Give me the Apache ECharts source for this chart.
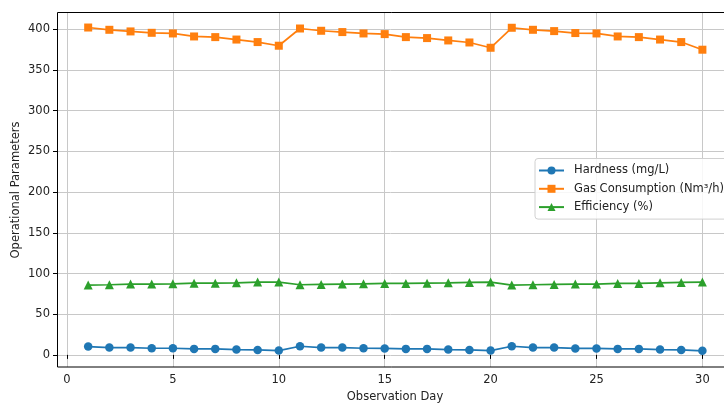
<!DOCTYPE html>
<html>
<head>
<meta charset="utf-8">
<script src="https://cdn.jsdelivr.net/npm/echarts@6/dist/echarts.min.js"></script>
<style>html,body{margin:0;padding:0;background:#fff;}#c{width:724px;height:403px;}</style>
</head>
<body>
<div id="c"></div>
<script>
const days = [1,2,3,4,5,6,7,8,9,10,11,12,13,14,15,16,17,18,19,20,21,22,23,24,25,26,27,28,29,30];
const hardness = [10.2,9.0,9.0,8.2,8.2,7.4,7.4,6.5,6.1,5.3,10.6,9.0,9.0,8.2,8.0,7.4,7.4,6.5,6.1,5.3,10.6,9.0,9.0,8.0,8.0,7.4,7.4,6.5,6.1,5.0];
const gas = [402.8,400,398,396.3,395.5,391.8,391,388,384.9,380.4,401.6,398.8,397.2,395.5,394.7,391,389.8,386.9,384.4,377.9,402.5,400,398.4,396,395.5,391.8,391,388,384.9,375.5];
const efficiency = [85.9,86.3,87.1,87.1,87.5,88.3,88.3,88.7,89.6,89.6,86.3,86.7,87.1,87.5,87.9,87.9,88.3,88.7,89.2,89.6,85.9,86.3,86.7,87.1,87.1,87.9,87.9,88.7,89.2,89.6];
const seriesNames = ['Hardness (mg/L)','Gas Consumption (Nm³/h)','Efficiency (%)'];
const xTitle = 'Observation Day';
const yTitle = 'Operational Parameters';

const FONT = 'DejaVu Sans';
const FS = 11.5;
const pair = a => a.map((v,i)=>[days[i], v]);

const chart = echarts.init(document.getElementById('c'), null, {renderer:'canvas'});
const mk = (name, data, color, symbol, size) => ({
  name, type:'line', xAxisIndex:1, yAxisIndex:1, data: pair(data),
  symbol, symbolSize:size, clip:false, animation:false,
  lineStyle:{color, width:1.7}, itemStyle:{color},
  emphasis:{disabled:true}
});
chart.setOption({
  animation:false,
  textStyle:{fontFamily:FONT},
  grid:[
    {left:57, width:676, top:29.3, bottom:48, containLabel:false},
    {left:67, width:635.4, top:12, height:355, containLabel:false}
  ],
  xAxis:[
    {gridIndex:0, type:'value', min:0, max:1, show:false},
    {gridIndex:1, type:'value', min:0, max:30, interval:5,
     axisLine:{show:false},
     axisTick:{show:true, inside:false, length:4, lineStyle:{color:'#000', width:1}},
     axisLabel:{margin:7, color:'#222', fontSize:FS, fontFamily:FONT},
     splitLine:{show:true, lineStyle:{color:'#c8c8c8', width:1}}}
  ],
  yAxis:[
    {gridIndex:0, type:'value', min:0, max:400, interval:50,
     axisLine:{show:false},
     axisTick:{show:true, inside:false, length:4, lineStyle:{color:'#000', width:1}},
     axisLabel:{margin:7, color:'#222', fontSize:FS, fontFamily:FONT},
     splitLine:{show:true, lineStyle:{color:'#c8c8c8', width:1}}},
    {gridIndex:1, type:'value', min:-14.9, max:421.9, show:false, splitLine:{show:false}}
  ],
  legend:{
    orient:'vertical', left:535, top:158.5,
    padding:[5,8,5,3], itemWidth:25, itemHeight:10, itemGap:4.3,
    backgroundColor:'rgba(255,255,255,0.85)', borderColor:'#d0d0d0', borderWidth:1, borderRadius:3,
    textStyle:{fontSize:FS, fontFamily:FONT, color:'#222', lineHeight:14, padding:[0,0,0,5]},
    data:seriesNames
  },
  series:[
    mk(seriesNames[0], hardness, '#1f77b4', 'circle', 8.5),
    mk(seriesNames[1], gas, '#ff7f0e', 'rect', 8),
    mk(seriesNames[2], efficiency, '#2ca02c', 'triangle', 9)
  ],
  graphic:[
    {type:'rect', z:100, silent:true, shape:{x:57.5, y:12.5, width:676, height:354.5},
     style:{fill:'none', stroke:'#000', lineWidth:1}},
    {type:'text', z:100, x:395, y:397, silent:true,
     style:{text:xTitle, font:FS+'px "'+FONT+'"', fill:'#222', textAlign:'center', textVerticalAlign:'middle'}},
    {type:'text', z:100, x:16, y:190, rotation:Math.PI/2, silent:true,
     style:{text:yTitle, font:FS+'px "'+FONT+'"', fill:'#222', textAlign:'center', textVerticalAlign:'middle'}}
  ]
});
</script>
</body>
</html>
